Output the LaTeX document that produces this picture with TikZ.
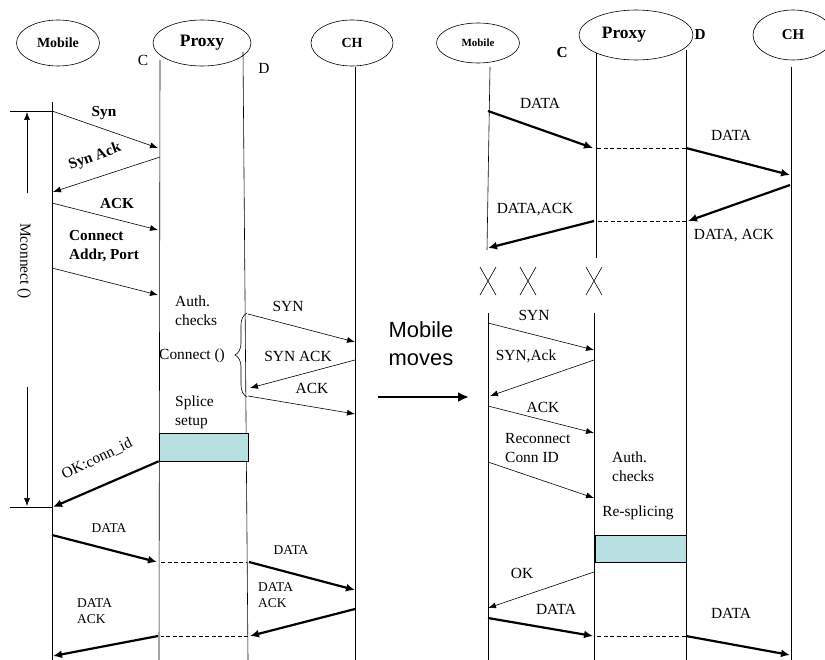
\documentclass[tikz,border=0pt]{standalone}
\usepackage{fontspec}
\setmainfont{Liberation Serif}
\setsansfont{Liberation Sans}
\usetikzlibrary{arrows.meta, shapes.geometric, decorations.pathreplacing}
\definecolor{splicebg}{HTML}{B8E0E2}
\tikzset{
  actor/.style={draw, ellipse, inner sep=0pt, line width=0.6pt, font=\bfseries\fontsize{14}{14}\selectfont},
  life/.style={line width=0.6pt},
  msg/.style={-{Latex[length=8bp,width=6bp]}, line width=0.6pt},
  bigmsg/.style={-{Latex[length=9bp,width=8bp]}, line width=2.2pt},
  gap/.style={line width=0.6pt, dash pattern=on 4bp off 2.5bp},
  lbl/.style={font=\fontsize{15.5}{19}\selectfont, align=left, inner sep=0pt},
  blbl/.style={lbl, font=\bfseries\fontsize{15.3}{19}\selectfont},
  slbl/.style={lbl, font=\fontsize{13.5}{16}\selectfont},
  splice/.style={draw, fill=splicebg, line width=0.6pt, inner sep=0pt}
}
\begin{document}
\begin{tikzpicture}[x=1bp, y=-1bp]
\useasboundingbox (0,0) rectangle (825,660);
% actors
\node[actor, minimum width=83bp, minimum height=46bp] (mobA) at (58,43) {Mobile};
\node[actor, minimum width=98bp, minimum height=46bp, font=\bfseries\fontsize{17.5}{17.5}\selectfont] (proxyA) at (202,43) {Proxy};
\node[actor, minimum width=82bp, minimum height=46bp] (chA) at (352,43) {CH};
\node[actor, minimum width=83bp, minimum height=40bp, font=\bfseries\fontsize{11}{11}\selectfont] (mobB) at (478,43) {Mobile};
\node[actor, minimum width=114bp, minimum height=50bp, font=\bfseries\fontsize{17.5}{17.5}\selectfont] (proxyB) at (636,35) {Proxy\hspace*{24bp}};
\node[actor, minimum width=80bp, minimum height=50bp, font=\bfseries\fontsize{15}{15}\selectfont] (chB) at (793,35) {CH};
\node[lbl] (cA) at (143,60) {C};
\node[lbl] (dA) at (264,68) {D};
\node[blbl] (cB) at (562,53) {C};
\node[blbl] (dB) at (700,35) {D};

% lifelines
\coordinate (mA1) at (52,102); \coordinate (mA2) at (52,660);
\coordinate (pcA1) at (160,60); \coordinate (pcA2) at (159,660);
\coordinate (pdA1) at (243,52); \coordinate (pdA2) at (248,660);
\coordinate (hA1) at (355,67); \coordinate (hA2) at (355,660);
\coordinate (mB1) at (490,67); \coordinate (mB2) at (487,250);
\coordinate (mB3) at (488,313); \coordinate (mB4) at (488,660);
\coordinate (pcB1) at (596,53); \coordinate (pcB2) at (596,258);
\coordinate (pcB3) at (594,313); \coordinate (pcB4) at (594,660);
\coordinate (pdB1) at (686,50); \coordinate (pdB2) at (686,660);
\coordinate (hB1) at (791,67); \coordinate (hB2) at (791,660);
\draw[life] (mA1)--(mA2); \draw[life] (pcA1)--(pcA2); \draw[life] (pdA1)--(pdA2); \draw[life] (hA1)--(hA2);
\draw[life] (mB1)--(mB2); \draw[life] (mB3)--(mB4); \draw[life] (pcB1)--(pcB2); \draw[life] (pcB3)--(pcB4);
\draw[life] (pdB1)--(pdB2); \draw[life] (hB1)--(hB2);

% Mconnect span
\coordinate (t0) at (10,111); \coordinate (t1) at (52,111);
\coordinate (b0) at (10,507); \coordinate (b1) at (52,507);
\coordinate (t2) at (27,193); \coordinate (t3) at (27,112);
\coordinate (b2) at (27,387); \coordinate (b3) at (27,506);
\draw[life] (t0)--(t1); \draw[life] (b0)--(b1);
\draw[msg] (t2)--(t3); \draw[msg] (b2)--(b3);
\node[lbl, rotate=-90] (mconn) at (24,261) {Mconnect ()};

% handshake mobile - proxy
\coordinate (a1) at (52,111); \coordinate (a2) at (158,148);
\coordinate (a3) at (160,157); \coordinate (a4) at (53,192);
\coordinate (a5) at (52,203); \coordinate (a6) at (158,230);
\coordinate (a7) at (52,268); \coordinate (a8) at (158,295);
\draw[msg] (a1)--(a2); \draw[msg] (a3)--(a4); \draw[msg] (a5)--(a6); \draw[msg] (a7)--(a8);
\node[blbl] (syn) at (104,113) {Syn};
\node[blbl, rotate=20] (synack) at (95,157) {Syn Ack};
\node[blbl] (ack) at (117,204) {ACK};
\node[blbl, anchor=west] (conn) at (69,246) {Connect\\Addr, Port};

% proxy - CH
\node[lbl, anchor=west] (auth) at (175,311) {Auth.\\checks};
\node[lbl, anchor=west] (connect) at (159,356) {Connect ()};
\coordinate (brT) at (247,313); \coordinate (brB) at (247,397);
\draw[life, decorate, decoration={brace, amplitude=12bp}] (brB)--(brT);
\coordinate (e1) at (248,314); \coordinate (e2) at (355,342);
\coordinate (e3) at (355,360); \coordinate (e4) at (250,388);
\coordinate (e5) at (248,396); \coordinate (e6) at (355,414);
\draw[msg] (e1)--(e2); \draw[msg] (e3)--(e4); \draw[msg] (e5)--(e6);
\node[lbl] (synB) at (288,306) {SYN};
\node[lbl] (synackB) at (298,356) {SYN ACK};
\node[lbl] (ackB) at (312,388) {ACK};
\node[lbl, anchor=west] (splset) at (175,412) {Splice\\setup};
\node[splice, minimum width=89bp, minimum height=28bp] (spA) at (203.5,447) {};
\coordinate (ok1) at (53,507);
\draw[bigmsg] (spA.south west)--(ok1);
\node[lbl, rotate=26] (okid) at (97,459) {OK:conn\_id};

% data transfer
\coordinate (f1) at (52,535); \coordinate (f2) at (157,562);
\coordinate (f3) at (161,562); \coordinate (f4) at (247,562);
\coordinate (f5) at (249,562); \coordinate (f6) at (355,590);
\coordinate (f7) at (355,609); \coordinate (f8) at (250,636);
\coordinate (f9) at (248,636); \coordinate (f10) at (161,636);
\coordinate (f11) at (158,636); \coordinate (f12) at (53,656);
\draw[bigmsg] (f1)--(f2); \draw[gap] (f3)--(f4); \draw[bigmsg] (f5)--(f6);
\draw[bigmsg] (f7)--(f8); \draw[gap] (f9)--(f10); \draw[bigmsg] (f11)--(f12);
\node[slbl] (dat1) at (109,528) {DATA};
\node[slbl] (dat2) at (291,550) {DATA};
\node[slbl, anchor=west] (dack1) at (258,595) {DATA\\ACK};
\node[slbl, anchor=west] (dack2) at (77,611) {DATA\\ACK};

% mobile moves
\node[lbl, font=\sffamily\fontsize{22}{28}\selectfont, align=center] (moves) at (421,344) {Mobile\\moves};
\coordinate (mv1) at (378,397); \coordinate (mv2) at (469,397);
\draw[-{Latex[length=11bp,width=10bp]}, line width=3pt] (mv1)--(mv2);

% right: before move
\coordinate (g1) at (488,111); \coordinate (g2) at (593,148);
\coordinate (g3) at (597,148); \coordinate (g4) at (686,148);
\coordinate (g5) at (686,148); \coordinate (g6) at (790,175);
\coordinate (g7) at (790,185); \coordinate (g8) at (688,221);
\coordinate (g9) at (686,221); \coordinate (g10) at (597,221);
\coordinate (g11) at (594,221); \coordinate (g12) at (488,248);
\draw[bigmsg] (g1)--(g2); \draw[gap] (g3)--(g4); \draw[bigmsg] (g5)--(g6);
\draw[bigmsg] (g7)--(g8); \draw[gap] (g9)--(g10); \draw[bigmsg] (g11)--(g12);
\node[lbl] (datR1) at (540,103) {DATA};
\node[lbl] (datR2) at (731,135) {DATA};
\node[lbl] (dackR1) at (535,210) {DATA,ACK};
\node[lbl] (dackR2) at (734,236) {DATA, ACK};
\foreach \x in {488,528,594}
  \draw[life] (\x-8,267)--(\x+8,295) (\x+8,267)--(\x-8,295);

% right: after move
\coordinate (h1) at (488,323); \coordinate (h2) at (594,350);
\coordinate (h3) at (594,360); \coordinate (h4) at (490,396);
\coordinate (h5) at (488,406); \coordinate (h6) at (594,433);
\coordinate (h7) at (488,462); \coordinate (h8) at (594,498);
\draw[msg] (h1)--(h2); \draw[msg] (h3)--(h4); \draw[msg] (h5)--(h6); \draw[msg] (h7)--(h8);
\node[lbl] (synR) at (534,315) {SYN};
\node[lbl] (synackR) at (526,356) {SYN,Ack};
\node[lbl] (ackR) at (543,407) {ACK};
\node[lbl, anchor=west] (reconn) at (505,448) {Reconnect\\Conn ID};
\node[lbl, anchor=west] (authR) at (612,467) {Auth.\\checks};
\node[lbl] (resp) at (638,513) {Re-splicing};
\node[splice, minimum width=91bp, minimum height=27bp] (spB) at (640.5,548.5) {};
\coordinate (k1) at (594,572); \coordinate (k2) at (488,608);
\coordinate (k3) at (488,618); \coordinate (k4) at (593,636);
\coordinate (k5) at (597,636); \coordinate (k6) at (686,636);
\coordinate (k7) at (686,636); \coordinate (k8) at (790,655);
\draw[msg] (k1)--(k2); \draw[bigmsg] (k3)--(k4); \draw[gap] (k5)--(k6); \draw[bigmsg] (k7)--(k8);
\node[lbl] (okR) at (522,573) {OK};
\node[lbl] (datR3) at (556,609) {DATA};
\node[lbl] (datR4) at (731,613) {DATA};
\end{tikzpicture}
\end{document}
